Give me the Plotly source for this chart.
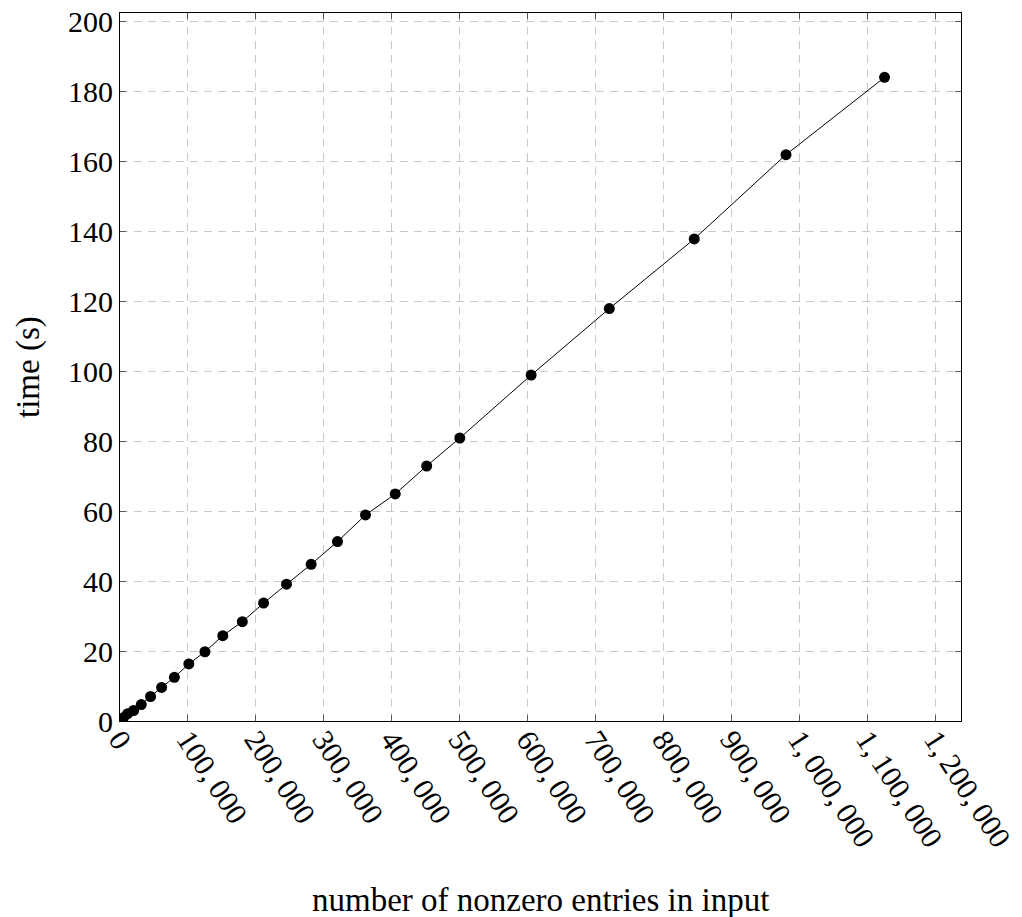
import plotly.graph_objects as go

# data
nnz = [1250, 5000, 11250, 20000, 31250, 45000, 61250, 80000, 101250, 125000,
       151250, 180000, 211250, 245000, 281250, 320000, 361250, 405000, 451250,
       500000, 605000, 720000, 845000, 980000, 1125000]
time_s = [0.3, 0.9, 2.1, 3.0, 4.7, 7.0, 9.6, 12.5, 16.3, 19.8,
          24.4, 28.4, 33.7, 39.1, 44.8, 51.3, 58.9, 64.9, 72.9,
          80.9, 98.9, 117.9, 137.8, 161.9, 184.0]

x_tickvals = [0, 100000, 200000, 300000, 400000, 500000, 600000, 700000,
              800000, 900000, 1000000, 1100000, 1200000]
x_ticktext = ["0", "100,\u2009000", "200,\u2009000", "300,\u2009000", "400,\u2009000",
              "500,\u2009000", "600,\u2009000", "700,\u2009000", "800,\u2009000",
              "900,\u2009000", "1,\u2009000,\u2009000", "1,\u2009100,\u2009000",
              "1,\u2009200,\u2009000"]
y_tickvals = [0, 20, 40, 60, 80, 100, 120, 140, 160, 180, 200]

x_title = "number of nonzero entries in input"
y_title = "time (s)"

FONT = "Liberation Serif"
FS = 30
TFS = 33

# body margin is removed in the page, so the figure fills the window
W, H = 1022, 917
L, R, T, B = 120, 61, 13, 196
PW, PH = W - L - R, H - T - B

fig = go.Figure()
fig.add_trace(go.Scatter(
    x=nnz, y=time_s, mode="lines+markers",
    line=dict(color="black", width=1),
    marker=dict(color="black", size=11, symbol="circle"),
    showlegend=False,
))

axis_common = dict(
    showline=True, linecolor="black", linewidth=1, mirror="allticks",
    ticks="inside", ticklen=6, tickcolor="#555555", tickwidth=1,
    showgrid=True, gridcolor="#c8c8c8", gridwidth=1, griddash="8px,6px",
    zeroline=False, automargin=False, ticklabeloverflow="allow",
    tickfont=dict(family=FONT, size=FS, color="black"),
)

fig.update_xaxes(range=[0, 1237500], tickvals=x_tickvals, ticktext=x_ticktext,
                 tickangle=57, ticklabelstandoff=-12, **axis_common)
fig.update_yaxes(range=[0, 202.4], tickvals=y_tickvals, **axis_common)

fig.update_layout(
    width=W, height=H,
    margin=dict(l=L, r=R, t=T, b=B),
    plot_bgcolor="white", paper_bgcolor="white",
    font=dict(family=FONT, size=FS, color="black"),
    annotations=[
        dict(text=x_title, xref="paper", yref="paper", x=0.5,
             y=(PH + T - 900) / PH,
             showarrow=False, xanchor="center", yanchor="middle",
             font=dict(family=FONT, size=TFS, color="black")),
        dict(text=y_title, xref="paper", yref="paper", x=(28 - L) / PW, y=0.5,
             showarrow=False, xanchor="center", yanchor="middle", textangle=-90,
             font=dict(family=FONT, size=TFS, color="black")),
    ],
)

fig.write_html("out.html",
               config={"displayModeBar": False},
               post_script="document.body.style.margin='0';document.body.style.overflow='hidden';")
